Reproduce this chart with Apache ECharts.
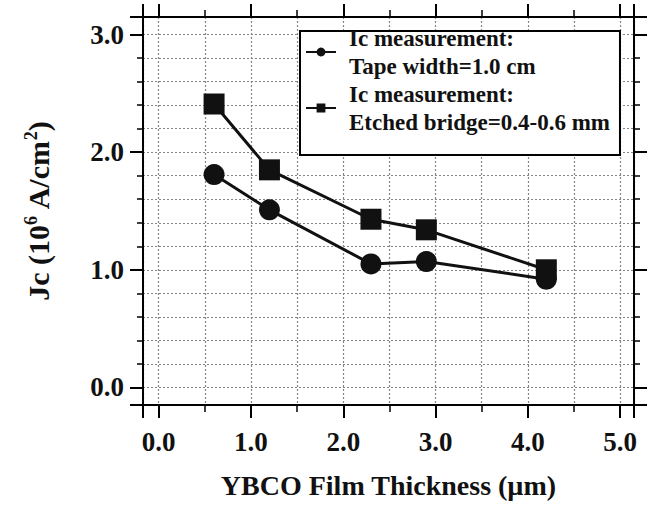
<!DOCTYPE html>
<html>
<head>
<meta charset="utf-8">
<script src="https://cdn.jsdelivr.net/npm/echarts@6/dist/echarts.min.js"></script>
<style>html,body{margin:0;padding:0;background:#fff}#c{width:651px;height:508px}</style>
</head>
<body>
<div id="c"></div>
<script>
// Data
const thickness = [0.6, 1.2, 2.3, 2.9, 4.2];            // YBCO film thickness (µm)
const tapeJc = [1.81, 1.51, 1.05, 1.07, 0.92];          // Ic measurement: tape width = 1.0 cm
const bridgeJc = [2.41, 1.85, 1.43, 1.34, 1.00];        // Ic measurement: etched bridge
const seriesNames = ['Ic measurement:\nTape width=1.0 cm', 'Ic measurement:\nEtched bridge=0.4-0.6 mm'];
const xTitle = 'YBCO Film Thickness (\u00b5m)';
const xRange = [-0.17, 5.15];
const yRange = [-0.15, 3.15];

const FONT = '"Liberation Serif", "Times New Roman", serif';
const chart = echarts.init(document.getElementById('c'), null, {renderer: 'svg'});

function axisCommon(extra) {
  return Object.assign({
    type: 'value',
    axisLine: {show: true, onZero: false, lineStyle: {color: '#000', width: 2}},
    axisTick: {show: true, inside: false, length: 13, lineStyle: {color: '#000', width: 2}},
    minorTick: {show: true, length: 7, lineStyle: {color: '#000', width: 1.5}},
    splitLine: {show: false},
    minorSplitLine: {show: false},
    axisLabel: {show: false}
  }, extra);
}
const gridLine = {show: true, lineStyle: {color: '#858585', width: 1.2, type: [2, 2]}};
const labelStyle = {show: true, color: '#111', fontFamily: FONT, fontWeight: 'bold', fontSize: 27,
  showMinLabel: false, showMaxLabel: false, formatter: v => v.toFixed(1)};

const option = {
  animation: false,
  backgroundColor: '#fff',
  grid: {left: 143, right: 17, top: 17, bottom: 103, containLabel: false},
  xAxis: [
    axisCommon({position: 'bottom', min: xRange[0], max: xRange[1], splitNumber: 5,
      minorTick: {show: true, splitNumber: 2, length: 7, lineStyle: {color: '#000', width: 1.5}},
      splitLine: gridLine, minorSplitLine: gridLine,
      axisLabel: Object.assign({margin: 23}, labelStyle),
      name: xTitle, nameLocation: 'middle', nameGap: 66, nameMoveOverlap: false,
      nameTextStyle: {color: '#111', fontFamily: FONT, fontWeight: 'bold', fontSize: 28}}),
    axisCommon({position: 'top', min: xRange[0], max: xRange[1], splitNumber: 5,
      minorTick: {show: true, splitNumber: 2, length: 7, lineStyle: {color: '#000', width: 1.5}}})
  ],
  yAxis: [
    axisCommon({position: 'left', min: yRange[0], max: yRange[1], splitNumber: 3,
      minorTick: {show: true, splitNumber: 5, length: 6, lineStyle: {color: '#000', width: 1.5}},
      splitLine: gridLine, minorSplitLine: gridLine,
      axisLabel: Object.assign({margin: 19}, labelStyle),
      name: '{a|Jc (10}{s|6}{a| A/cm}{s|2}{a|)}', nameLocation: 'middle', nameGap: 88, nameRotate: 90,
      nameTextStyle: {rich: {
        a: {color: '#111', fontFamily: FONT, fontWeight: 'bold', fontSize: 30, lineHeight: 34},
        s: {color: '#111', fontFamily: FONT, fontWeight: 'bold', fontSize: 18, lineHeight: 34, padding: [0, 0, 14, 0]}
      }}}),
    axisCommon({position: 'right', min: yRange[0], max: yRange[1], splitNumber: 3,
      minorTick: {show: true, splitNumber: 5, length: 6, lineStyle: {color: '#000', width: 1.5}}})
  ],
  legend: {
    orient: 'vertical', left: 300, top: 31,
    padding: [-21, 10, 5, 5], itemGap: -28,
    itemWidth: 30, itemHeight: 11,
    backgroundColor: '#fff', borderColor: '#000', borderWidth: 2,
    textStyle: {color: '#111', fontFamily: FONT, fontWeight: 'bold', fontSize: 23, lineHeight: 28,
      padding: [28, 0, 0, 8]},
    data: seriesNames
  },
  series: [
    {name: seriesNames[1], type: 'line', data: thickness.map((x, i) => [x, bridgeJc[i]]),
      symbol: 'rect', symbolSize: 21, color: '#111',
      lineStyle: {color: '#111', width: 3}, itemStyle: {color: '#111'}, z: 3},
    {name: seriesNames[0], type: 'line', data: thickness.map((x, i) => [x, tapeJc[i]]),
      symbol: 'circle', symbolSize: 21, color: '#111',
      lineStyle: {color: '#111', width: 3}, itemStyle: {color: '#111'}, z: 4}
  ]
};
chart.setOption(option);
</script>
</body>
</html>
